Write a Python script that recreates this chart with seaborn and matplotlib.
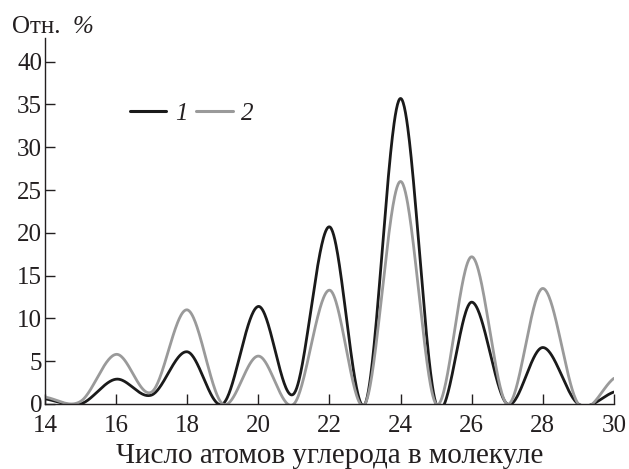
import numpy as np
import pandas as pd
import matplotlib
matplotlib.use("Agg")
import matplotlib.pyplot as plt
import seaborn as sns

# carbon number and relative content, %
carbon = [14, 15, 16, 17, 18, 19, 20, 21, 22, 23, 24, 25, 26, 27, 28, 29, 30]
series_1 = [0.6, 0.0, 2.9, 1.05, 6.1, 0.0, 11.4, 1.2, 20.7, 0.0, 35.7, 0.0, 11.9, 0.0, 6.6, 0.0, 1.4]
series_2 = [0.8, 0.3, 5.8, 1.4, 11.0, 0.0, 5.6, 0.0, 13.3, 0.0, 26.0, 0.0, 17.2, 0.0, 13.5, 0.0, 3.0]
labels = ["1", "2"]
colors = ["#1a1a1a", "#9a9a9a"]


def smooth(x, y, xs):
    # Catmull-Rom style smoothing through the points (like a spreadsheet "smoothed line")
    x = np.asarray(x, float)
    y = np.asarray(y, float)
    n = len(x)
    m = np.zeros(n)
    m[1:-1] = (y[2:] - y[:-2]) / (x[2:] - x[:-2])
    m[0] = y[1] - y[0]
    m[-1] = y[-1] - y[-2]
    idx = np.clip(np.searchsorted(x, xs) - 1, 0, n - 2)
    h = x[idx + 1] - x[idx]
    t = (xs - x[idx]) / h
    h00 = 2 * t**3 - 3 * t**2 + 1
    h10 = t**3 - 2 * t**2 + t
    h01 = -2 * t**3 + 3 * t**2
    h11 = t**3 - t**2
    return h00 * y[idx] + h10 * h * m[idx] + h01 * y[idx + 1] + h11 * h * m[idx + 1]


xs = np.linspace(carbon[0], carbon[-1], 1000)
frames = []
for lab, ys in zip(labels, [series_1, series_2]):
    frames.append(pd.DataFrame({"x": xs, "y": smooth(carbon, ys, xs), "s": lab}))
df = pd.concat(frames)

sns.set_style("ticks")
plt.rcParams["font.family"] = ["Liberation Serif", "DejaVu Serif"]
ink = "#231f20"

fig = plt.figure(figsize=(6.29, 4.69), dpi=100)
ax = fig.add_axes([0.0715, 0.1386, 0.9045, 0.781])

sns.lineplot(data=df, x="x", y="y", hue="s", palette=colors, hue_order=labels,
             linewidth=2.0, ax=ax, legend=False)

ax.set_xlim(14, 30)
ax.set_ylim(0, 42.8)
ax.set_xticks(range(14, 31, 2))
ax.set_yticks(range(0, 41, 5))
sns.despine(ax=ax)
for sp in ["left", "bottom"]:
    ax.spines[sp].set_color(ink)
    ax.spines[sp].set_linewidth(1.0)
ax.tick_params(direction="in", length=7, width=1.0, labelsize=18, colors=ink)
ax.tick_params(axis="y", pad=2)
ax.tick_params(axis="x", pad=8)
ax.set_xlabel("Число атомов углерода в молекуле", fontsize=21, color=ink, labelpad=4)
ax.set_ylabel("")

fig.text(0.019, 0.93, "Отн.", fontsize=18, color=ink, va="baseline")
fig.text(0.115, 0.93, "%", fontsize=18, color=ink, style="italic", va="baseline")

handles = [plt.Line2D([], [], color=c, lw=2.2) for c in colors]
leg = fig.legend(handles, labels, ncol=2, loc="center left",
                 bbox_to_anchor=(130 / 629, 1 - 114 / 469),
                 frameon=False, handlelength=1.45, handletextpad=0.35, columnspacing=0.35,
                 borderpad=0, borderaxespad=0, prop={"size": 18, "style": "italic"})
for t in leg.get_texts():
    t.set_color(ink)

fig.savefig("out.png", dpi=100)
